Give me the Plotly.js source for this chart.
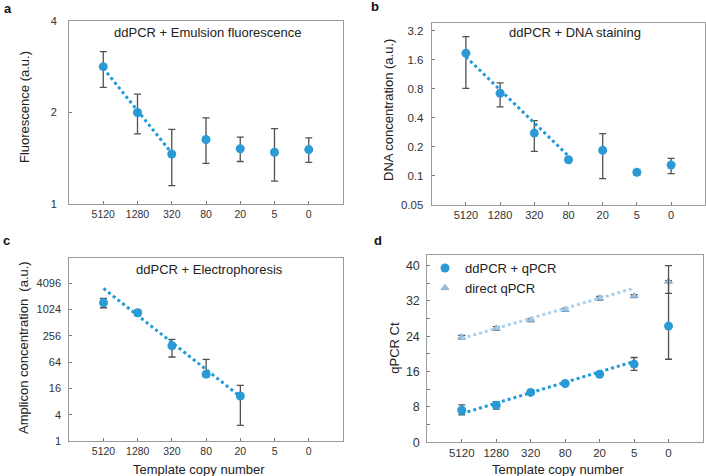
<!DOCTYPE html>
<html><head><meta charset="utf-8">
<script src="https://cdn.plot.ly/plotly-3.0.1.min.js"></script>
<style>html,body{margin:0;padding:0;background:#fff}#chart{width:706px;height:476px}</style>
</head><body><div id="chart"></div>
<script>
// ---------- data ----------
const categories = ['5120','1280','320','80','20','5','0'];

// a: ddPCR + Emulsion fluorescence
const fluorMean  = [2.83, 2.00, 1.46, 1.63, 1.52, 1.48, 1.51];
const fluorUpper = [3.17, 2.30, 1.76, 1.92, 1.66, 1.77, 1.65];
const fluorLower = [2.42, 1.70, 1.15, 1.36, 1.38, 1.19, 1.37];
const fluorTrendCats = ['5120', '320'];
const fluorTrend = [2.80, 1.47];

// b: ddPCR + DNA staining
const dnaMean  = [1.88, 0.72, 0.277, 0.146, 0.183, 0.108, 0.129];
const dnaUpper = [2.79, 0.92, 0.373, 0.150, 0.273, 0.115, 0.151];
const dnaLower = [0.81, 0.52, 0.179, 0.142, 0.093, 0.101, 0.105];
const dnaTrendCats = ['5120', '80'];
const dnaTrend = [1.72, 0.16];

// c: ddPCR + Electrophoresis
const ampCats  = ['5120','1280','320','80','20'];
const ampMean  = [1468, 867, 152, 34, 10.7];
const ampUpper = [1845, 998, 212, 74, 18.8];
const ampLower = [1128, 740, 84, 29.6, 2.28];
const ampTrendCats = ['5120', '20'];
const ampTrend = [3126, 10.4];

// d: qPCR Ct
const ddqMean  = [7.25, 8.4, 11.3, 13.3, 15.4, 17.7, 26.3];
const ddqUpper = [8.45, 9.2, 11.7, 13.6, 15.7, 19.2, 40.0];
const ddqLower = [6.2, 7.5, 10.9, 13.0, 15.1, 16.3, 18.8];
const dirMean  = [23.8, 25.8, 27.7, 30.0, 32.6, 33.1, 36.4];
const dirUpper = [24.2, 26.2, 28.0, 30.3, 33.0, 33.4, 36.6];
const dirLower = [23.4, 25.4, 27.3, 29.7, 32.2, 32.8, 33.7];
const ddqTrendCats = ['5120', '5'];
const ddqTrend = [6.5, 18.3];
const dirTrendCats = ['5120', '5'];
const dirTrend = [23.5, 34.9];

const yTicksA = [1, 2, 4];
const yTicksB = [0.05, 0.1, 0.2, 0.4, 0.8, 1.6, 3.2];
const yTicksC = [1, 4, 16, 64, 256, 1024, 4096];
const yTicksD = [0, 8, 16, 24, 32, 40];
const yMinorD = [4, 12, 20, 28, 36];

// ---------- style ----------
const BLUE = '#2C9AD5';
const LINEBLUE = '#1F9BDB';
const LIGHTLINE = '#A6D2F0';
const TRI = '#9CC2E2';
const ERR = '#505050';
const FONT = 'Liberation Sans, Arial, sans-serif';

function err(mean, up, lo) {
  return {type: 'data', symmetric: false,
    array: up.map((u, i) => u - mean[i]),
    arrayminus: lo.map((l, i) => mean[i] - l),
    color: ERR, thickness: 1.3, width: 3.5};
}
function pts(x, y, e, xa, ya, extra) {
  return Object.assign({type: 'scatter', mode: 'markers', x: x, y: y, xaxis: xa, yaxis: ya,
    error_y: e, marker: {color: BLUE, size: 9}, showlegend: false, hoverinfo: 'skip'}, extra || {});
}
function trend(x, y, xa, ya, color) {
  return {type: 'scatter', mode: 'lines', x: x, y: y, xaxis: xa, yaxis: ya,
    line: {color: color, width: 3, dash: 'dot'}, showlegend: false, hoverinfo: 'skip'};
}

const traces = [
  pts(categories, fluorMean, err(fluorMean, fluorUpper, fluorLower), 'x', 'y'),
  trend(fluorTrendCats, fluorTrend, 'x', 'y', LINEBLUE),
  pts(categories, dnaMean, err(dnaMean, dnaUpper, dnaLower), 'x2', 'y2'),
  trend(dnaTrendCats, dnaTrend, 'x2', 'y2', LINEBLUE),
  pts(ampCats, ampMean, err(ampMean, ampUpper, ampLower), 'x3', 'y3'),
  trend(ampTrendCats, ampTrend, 'x3', 'y3', LINEBLUE),
  pts(categories, dirMean, err(dirMean, dirUpper, dirLower), 'x4', 'y4',
      {name: 'direct qPCR', showlegend: true, legendrank: 2,
       marker: {color: TRI, size: 7, symbol: 'triangle-up', line: {color: '#7FA6C8', width: 0.8}}}),
  trend(dirTrendCats, dirTrend, 'x4', 'y4', LIGHTLINE),
  pts(categories, ddqMean, err(ddqMean, ddqUpper, ddqLower), 'x4', 'y4',
      {name: 'ddPCR + qPCR', showlegend: true, legendrank: 1}),
  trend(ddqTrendCats, ddqTrend, 'x4', 'y4', LINEBLUE)
];

const W = 706, H = 476;
function dx(a, b) { return [a / W, b / W]; }
function dy(top, bot) { return [1 - bot / H, 1 - top / H]; }

function xax(dom, anchor, fs) {
  return {domain: dom, anchor: anchor, type: 'category', categoryarray: categories,
    range: [-1, 7], showline: true, mirror: true, linecolor: '#9a9a9a', linewidth: 1,
    ticks: 'inside', ticklen: 3, tickcolor: '#777', showgrid: false, zeroline: false,
    tickfont: {family: FONT, size: fs || 10.5, color: '#333'}, fixedrange: true};
}
function yax(dom, anchor, extra) {
  return Object.assign({domain: dom, anchor: anchor, showline: true, mirror: true,
    linecolor: '#9a9a9a', linewidth: 1, ticks: 'inside', ticklen: 3, tickcolor: '#777',
    showgrid: false, zeroline: false,
    tickfont: {family: FONT, size: 11, color: '#333'}, fixedrange: true}, extra);
}

function ann(text, x, y, opts) {
  return Object.assign({text: text, x: x / W, y: 1 - y / H, xref: 'paper', yref: 'paper',
    showarrow: false, xanchor: 'center', yanchor: 'middle',
    font: {family: FONT, size: 13, color: '#222'}}, opts || {});
}

const layout = {
  width: W, height: H, margin: {l: 0, r: 0, t: 0, b: 0},
  paper_bgcolor: '#fff', plot_bgcolor: '#fff',
  xaxis: xax(dx(69, 343), 'y'),
  yaxis: yax(dy(21, 204), 'x', {type: 'log', range: [0, Math.log10(4)], tickvals: yTicksA,
    ticktext: yTicksA.map(String), ticklabelstandoff: 9}),
  xaxis2: xax(dx(431.7, 705.3), 'y2', 11),
  yaxis2: yax(dy(22.7, 204.5), 'x2', {type: 'log', range: [Math.log10(0.05), Math.log10(3.9)],
    tickvals: yTicksB, ticktext: yTicksB.map(String), ticklabelstandoff: 5,
    tickfont: {family: FONT, size: 11.5, color: '#333'}}),
  xaxis3: xax(dx(69.3, 343), 'y3'),
  yaxis3: yax(dy(258.3, 441), 'x3', {type: 'log', range: [0, 13.9 * Math.log10(2)],
    tickvals: yTicksC, ticktext: yTicksC.map(String), ticklabelstandoff: 5}),
  xaxis4: xax(dx(427.3, 703), 'y4', 11.5),
  yaxis4: yax(dy(255, 442.3), 'x4', {range: [0, 42.4], tickvals: yTicksD,
    ticklabelstandoff: 4, minor: {tickvals: yMinorD, ticks: 'inside', ticklen: 2.5, tickcolor: '#777'},
    tickfont: {family: FONT, size: 12.5, color: '#333'}}),
  legend: {x: 425 / W, y: 1 - 253 / H, xanchor: 'left', yanchor: 'top', bgcolor: 'rgba(0,0,0,0)',
    font: {family: FONT, size: 13, color: '#222'}, itemwidth: 30, tracegroupgap: 0},
  annotations: [
    ann('<b>a</b>', 8, 8, {font: {family: FONT, size: 13, color: '#111'}}),
    ann('<b>b</b>', 375, 7, {font: {family: FONT, size: 13, color: '#111'}}),
    ann('<b>c</b>', 6, 240, {font: {family: FONT, size: 13, color: '#111'}}),
    ann('<b>d</b>', 378, 240, {font: {family: FONT, size: 13, color: '#111'}}),
    ann('ddPCR + Emulsion fluorescence', 208, 33),
    ann('ddPCR + DNA staining', 575, 33),
    ann('ddPCR + Electrophoresis', 209, 269),
    ann('Fluorescence (a.u.)', 25, 107, {textangle: -90}),
    ann('DNA concentration (a.u.)', 388, 110, {textangle: -90}),
    ann('Amplicon concentration  (a.u.)', 23, 348, {textangle: -90}),
    ann('qPCR Ct', 393.7, 348, {textangle: -90}),
    ann('Template copy number', 199, 469),
    ann('Template copy number', 558, 469)
  ]
};

Plotly.newPlot('chart', traces, layout, {staticPlot: true, displayModeBar: false});
</script></body></html>
